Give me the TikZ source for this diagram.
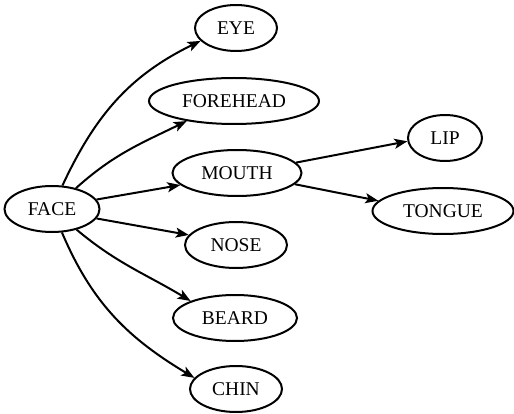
\documentclass[tikz,border=0pt]{standalone}
\usepackage{fontspec}
\setmainfont{Liberation Serif}
\usetikzlibrary{arrows.meta,shapes.geometric}

\tikzset{
  term/.style={ellipse, draw, line width=2pt, inner sep=0pt,
    font=\fontsize{19.5}{22}\selectfont, minimum height=46pt},
  link/.style={line width=2pt,
    -{Stealth[length=13pt,width=10pt,inset=3pt]}}
}

\begin{document}
\begin{tikzpicture}[x=1pt,y=1pt]
  \useasboundingbox (0,0) rectangle (514,-414);

  % nodes
  \node[term, minimum width=95pt]  (face)     at (52,-209)  {FACE};
  \node[term, minimum width=82pt]  (eye)      at (236,-28)  {EYE};
  \node[term, minimum width=170pt] (forehead) at (234,-101) {FOREHEAD};
  \node[term, minimum width=129pt] (mouth)    at (237,-173) {MOUTH};
  \node[term, minimum width=102pt] (nose)     at (236,-245) {NOSE};
  \node[term, minimum width=124pt] (beard)    at (235,-318) {BEARD};
  \node[term, minimum width=92pt]  (chin)     at (236,-389) {CHIN};
  \node[term, minimum width=74pt]  (lip)      at (445,-138) {LIP};
  \node[term, minimum width=141pt] (tongue)   at (443,-211) {TONGUE};

  % edges from FACE
  \draw[link] (face.66)  to[out=65, in=206] (eye.200);
  \draw[link] (face.41)  to[out=42, in=206] (forehead.203);
  \draw[link] (face.12)  -- (mouth.192);
  \draw[link] (face.-12) -- (nose.168);
  \draw[link] (face.-40) to[out=-40, in=149] (beard.159);
  \draw[link] (face.-67) to[out=-67, in=149] (chin.165);

  % edges from MOUTH
  \draw[link] (mouth.10)  -- (lip.185);
  \draw[link] (mouth.-11) -- (tongue.171);
\end{tikzpicture}
\end{document}
